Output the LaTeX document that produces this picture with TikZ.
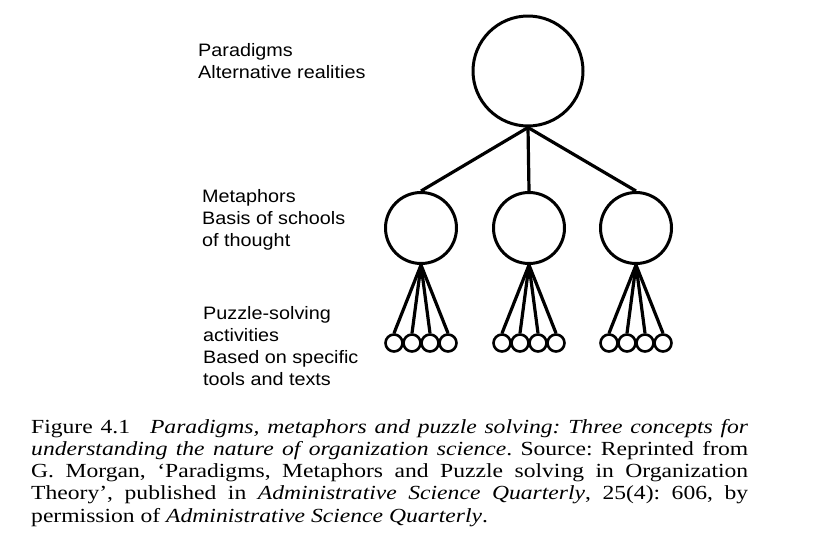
\documentclass[tikz,border=0pt]{standalone}
\usepackage{fontspec}
\setmainfont{Liberation Serif}[FakeStretch=1.18]
\newfontfamily\labfont{Liberation Sans}[FakeStretch=1.1]
\begin{document}
\begin{tikzpicture}[x=1pt,y=-1pt,
  bigc/.style={circle,draw,line width=3pt,minimum size=110pt,inner sep=0pt},
  midc/.style={circle,draw,line width=3pt,minimum size=71pt,inner sep=0pt},
  smallc/.style={circle,draw,line width=2.6pt,minimum size=17pt,inner sep=0pt},
  conn/.style={line width=3.2pt},
  lab/.style={anchor=base west,align=left,inner sep=0pt,font=\labfont\fontsize{18}{22}\selectfont},
  captext/.style={anchor=base west,text width=717pt,align=justify,inner sep=0pt,font=\frenchspacing\fontsize{20}{22.2}\selectfont}]
\useasboundingbox (0,0) rectangle (818,552);
\node[bigc] (P) at (528,71) {};
\node[midc] (M1) at (421,228) {};
\node[midc] (M2) at (529,228) {};
\node[midc] (M3) at (636,228) {};
\foreach \g/\cx in {1/421,2/529,3/636}{
  \foreach \i/\dx in {1/-27,2/-9,3/9,4/27}{
    \node[smallc] (S\g\i) at (\cx+\dx,343) {};
    \draw[conn] (M\g.south) -- (S\g\i.north);
  }
  \draw[conn] (P.south) -- (M\g.north);
}
\node[lab] (t1) at (198,78.5) {Paradigms\\Alternative realities};
\node[lab] (t2) at (202,246.7) {Metaphors\\Basis of schools\\of thought};
\node[lab] (t3) at (203,385.7) {Puzzle-solving\\activities\\Based on specific\\tools and texts};
\node[captext] (c) at (31,433.3) {Figure 4.1\hspace{1em}\textit{Paradigms, metaphors and puzzle solving: Three concepts for}\linebreak
\textit{understanding the nature of organization science}. Source: Reprinted from\linebreak
G. Morgan, ‘Paradigms, Metaphors and Puzzle solving in Organization\linebreak
Theory’, published in \textit{Administrative Science Quarterly}, 25(4): 606, by\linebreak
permission of \textit{Administrative Science Quarterly}.};
\end{tikzpicture}
\end{document}
